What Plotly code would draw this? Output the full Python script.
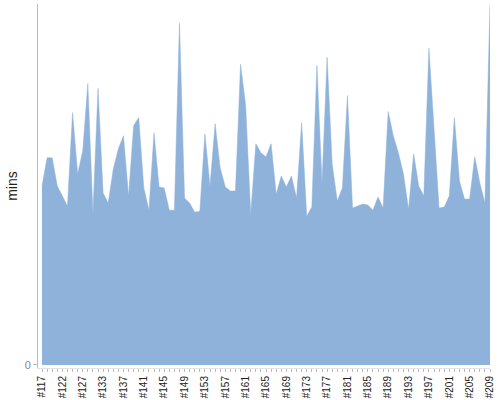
import plotly.graph_objects as go

# build numbers shown on the x axis (a few are missing from the sequence)
missing = [119, 125, 129, 131]
builds = ['#%d' % n for n in range(117, 210) if n not in missing]

# duration per build, in minutes
mins = [178, 206, 206, 178, 168, 158, 251, 190, 213, 280,
        151, 275, 171, 161, 195, 215, 228, 168, 238, 246,
        176, 154, 231, 177, 176, 154, 154, 340, 166, 161,
        152, 153, 230, 178, 240, 196, 177, 173, 173, 299,
        258, 150, 220, 211, 207, 220, 170, 188, 177, 188,
        166, 241, 148, 157, 298, 181, 306, 200, 163, 176,
        268, 156, 158, 160, 159, 154, 167, 156, 252, 228,
        211, 190, 155, 210, 178, 168, 315, 233, 156, 157,
        168, 246, 183, 165, 165, 207, 181, 161, 359]

# every category gets a tick, every 4th gets a label
tick_text = [b if i % 4 == 0 else '' for i, b in enumerate(builds)]

fig = go.Figure()
fig.add_trace(go.Scatter(
    x=list(range(len(builds))),
    y=mins,
    mode='lines',
    fill='tozeroy',
    fillcolor='rgb(143,178,219)',
    line=dict(color='rgb(143,178,219)', width=0.5),
    hoverinfo='skip'
))

fig.update_layout(
    width=500,
    height=400,
    margin=dict(l=38, r=10, t=4, b=32),
    plot_bgcolor='white',
    paper_bgcolor='white',
    showlegend=False,
    font=dict(family='Liberation Sans, Arial, sans-serif'),
    xaxis=dict(
        range=[-0.79, len(builds) - 1],
        tickmode='array',
        tickvals=list(range(len(builds))),
        ticktext=tick_text,
        tickangle=-90,
        ticks='outside',
        ticklen=3,
        tickcolor='#bbbbbb',
        tickfont=dict(size=10, color='#222222'),
        showgrid=False,
        showline=True,
        linecolor='#e4e4e4',
        zeroline=False,
        automargin=False
    ),
    yaxis=dict(
        range=[-3, 359],
        tickvals=[0],
        ticktext=['0'],
        ticks='outside',
        ticklen=4,
        tickcolor='#bbbbbb',
        tickfont=dict(size=11, color='#888888'),
        showgrid=False,
        showline=True,
        linecolor='#bbbbbb',
        linewidth=1,
        zeroline=False,
        automargin=False,
        title=dict(text='mins', font=dict(size=14, color='#222222'), standoff=3)
    )
)

# page body has a default margin that would push the chart off the window
fig.write_html("out.html",
               config={'displayModeBar': False},
               post_script="document.body.style.margin='0';")
